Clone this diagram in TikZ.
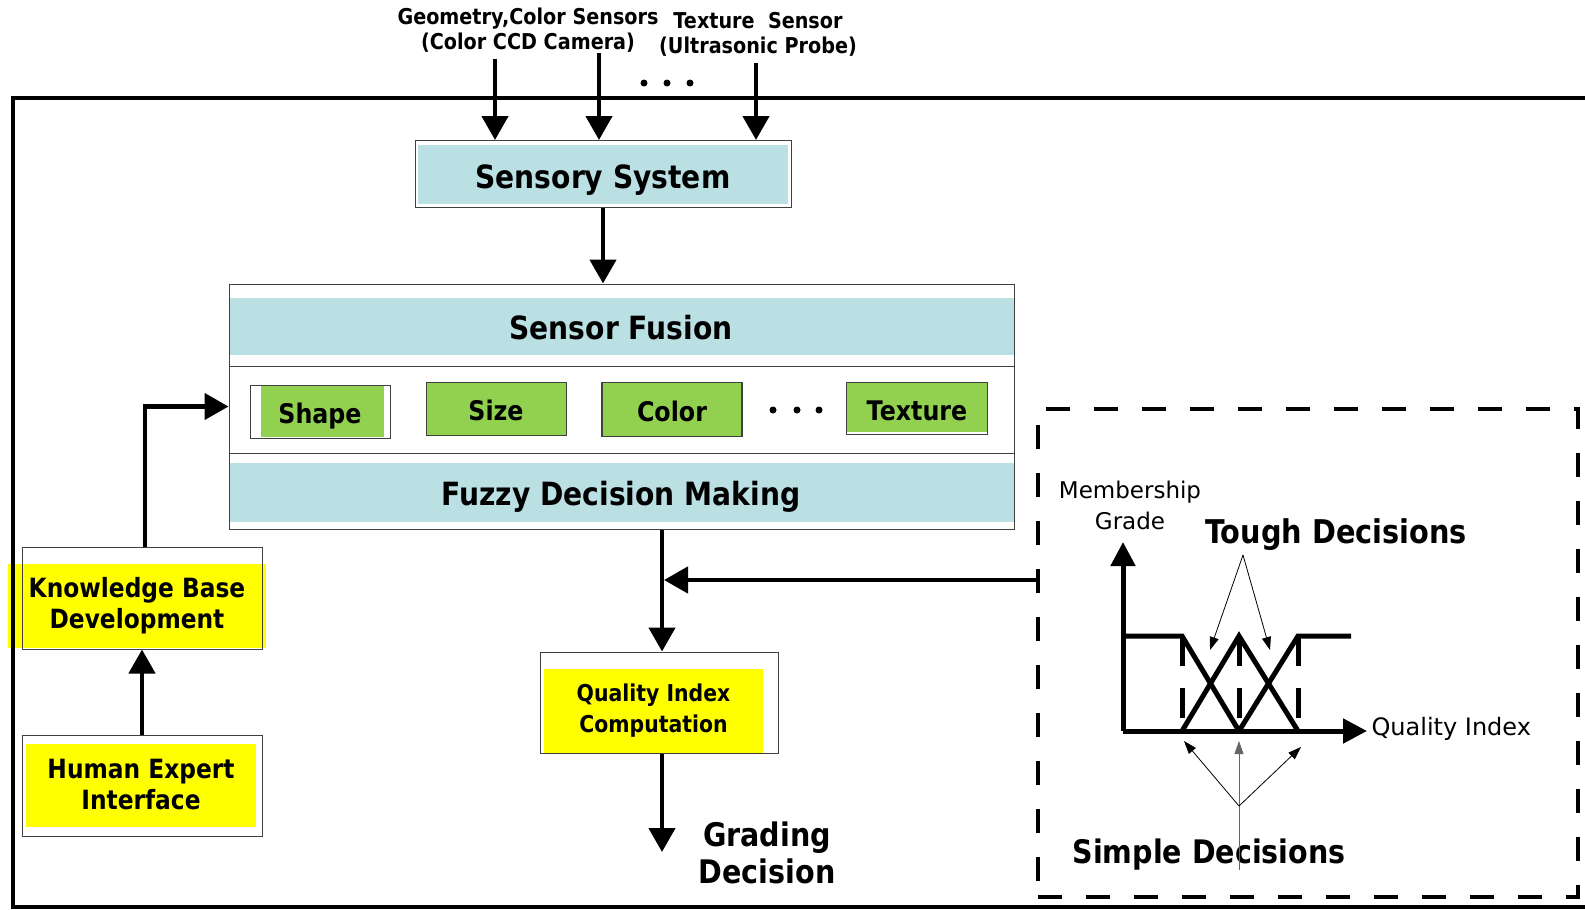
\documentclass[tikz,border=0pt]{standalone}
\usepackage{fontspec}
\setmainfont{DejaVu Sans}[BoldFeatures={FakeStretch=0.88}]
\usepackage{tikz}
\usetikzlibrary{positioning, arrows.meta}
\definecolor{fusionblue}{RGB}{187,224,227}
\definecolor{leafgreen}{RGB}{146,208,80}
\definecolor{markyellow}{RGB}{255,255,0}

\begin{document}
\begin{tikzpicture}[x=1pt, y=-1pt,
    blockframe/.style={draw=black!75, line width=1pt, inner sep=0pt},
    heavy/.style={line width=4.5pt, -{Triangle[width=26pt,length=24pt]}},
    pointer/.style={line width=0.8pt, -{Triangle[width=9pt,length=13pt]}},
    titlefont/.style={font=\fontsize{32}{37}\selectfont\bfseries, align=center},
    leaffont/.style={font=\fontsize{27}{30}\selectfont\bfseries, text height=24pt, text depth=0pt},
    boxfont/.style={font=\fontsize{26.5}{31}\selectfont\bfseries, align=center},
    sensorfont/.style={font=\fontsize{21.8}{25}\selectfont\bfseries, align=center},
    axisfont/.style={font=\fontsize{23}{31}\selectfont, align=center},
    curve/.style={line width=5pt}]
  \useasboundingbox (0,0) rectangle (1585,910);

  \fill[fusionblue] (418,145) rectangle (788,204);
  \fill[fusionblue] (229,298) rectangle (1014,355);
  \fill[fusionblue] (229,463) rectangle (1014,522);
  \fill[leafgreen] (261,386) rectangle (384,437);
  \fill[leafgreen] (846,382) rectangle (988,432);

  \node [blockframe, minimum width=376, minimum height=67] (sensory) at (603,174) {};
  \node [titlefont] (sensoryText) at (603,180) {Sensory System};
  \node [sensorfont] (geoLabel) at (528,30) {Geometry,Color Sensors\\(Color CCD Camera)};
  \node [sensorfont] (textureLabel) at (758,34) {Texture\ \ Sensor\\(Ultrasonic Probe)};
  \coordinate (geoTop) at (495,59);
  \coordinate (camTop) at (599,53);
  \coordinate (textureTop) at (756,63);
  \foreach \x in {644,667,690} \fill (\x,83) circle (3.5);

  \node [blockframe, minimum width=785, minimum height=245] (fusion) at (621.5,406.5) {};
  \draw [black!75, line width=1pt] (229,366) -- (1014,366);
  \draw [black!75, line width=1pt] (229,453) -- (1014,453);
  \node [titlefont] (fusionTitle) at (621,328) {Sensor Fusion};
  \node [titlefont] (fuzzy) at (621,497) {Fuzzy Decision Making};

  \node [blockframe, leaffont, minimum width=140, minimum height=53] (shape) at (320,411.5) {Shape};
  \node [blockframe, leaffont, fill=leafgreen, minimum width=140, minimum height=53] (size) at (496,408.5) {Size};
  \node [blockframe, leaffont, fill=leafgreen, line width=1.8pt, minimum width=140, minimum height=54] (color) at (672,409.5) {Color};
  \node [blockframe, leaffont, minimum width=141, minimum height=52] (texture) at (917,408) {Texture};
  \foreach \x in {773,797,819} \fill (\x,410) circle (3.5);

  \node [fill=markyellow, boxfont, minimum width=258, minimum height=84] (knowledgeText) at (137,606) {Knowledge Base\\Development};
  \node [blockframe, minimum width=240, minimum height=102] (knowledge) at (142,598) {};
  \node [fill=markyellow, boxfont, minimum width=230, minimum height=83] (humanText) at (141,785) {Human Expert\\Interface};
  \node [blockframe, minimum width=240, minimum height=101] (human) at (142,785.5) {};
  \node [fill=markyellow, boxfont, font=\fontsize{23.2}{31}\selectfont\bfseries, minimum width=219, minimum height=85] (qualityText) at (653.5,711) {Quality Index\\Computation};
  \node [blockframe, minimum width=238, minimum height=101] (quality) at (659,702.5) {};
  \node [titlefont, font=\fontsize{32.5}{37}\selectfont\bfseries] (grading) at (767,853) {Grading\\Decision};
  \coordinate (merge) at (662,580);
  \coordinate (gradeEnd) at (662,852);

  \draw [line width=4pt] (1585,98) -- (13,98) -- (13,907) -- (1585,907);

  \draw [heavy] (geoTop) -- (geoTop |- sensory.north);
  \draw [heavy] (camTop) -- (camTop |- sensory.north);
  \draw [heavy] (textureTop) -- (textureTop |- sensory.north);
  \draw [heavy] (sensory.south) -- (sensory.south |- fusion.north);
  \draw [heavy] (human.north) -- (knowledge.south);
  \draw [heavy] ([xshift=3pt]knowledge.north) |- (fusion.west);
  \draw [heavy] (fusion.south -| merge) -- (merge |- quality.north);
  \draw [heavy] (quality.south -| merge) -- (gradeEnd);

  \node [draw, line width=4.5pt, dash pattern=on 24pt off 24pt, minimum width=540, minimum height=488] (fuzzyPanel) at (1308,653) {};
  \draw [heavy] (fuzzyPanel.west |- merge) -- ([xshift=2pt]merge);

  \coordinate (origin) at (1123,731);
  \draw [line width=5pt, -{Triangle[width=24pt,length=24pt]}] (origin) -- (1123,542);
  \draw [line width=5pt, -{Triangle[width=24pt,length=24pt]}] (origin) -- (1367,731);
  \node [axisfont] (gradeLabel) at (1130,505) {Membership\\Grade};
  \node [axisfont, font=\fontsize{24}{31}\selectfont, anchor=west] (qiLabel) at (1368,729) {Quality Index};

  \draw [curve] (origin |- 0,636) -- (1182,636) -- (1239,731);
  \draw [curve] (1182,731) -- (1239,636) -- (1298,731);
  \draw [curve] (1239,731) -- (1298,636) -- (1351,636);
  \foreach \x in {1182,1239,1298}
    \draw [line width=5pt, dash pattern=on 30pt off 22pt] (\x,636) -- (\x,731);

  \node [font=\fontsize{32.7}{36}\selectfont\bfseries] (tough) at (1336,535) {Tough Decisions};
  \coordinate (toughFork) at (1243,555);
  \draw [pointer] (toughFork) -- (1210,650);
  \draw [pointer] (toughFork) -- (1270,650);

  \node [font=\fontsize{32.4}{36}\selectfont\bfseries] (simple) at (1209,855) {Simple Decisions};
  \coordinate (simpleFork) at (1239,806);
  \draw [black!60, line width=0.8pt] (1239,870) -- (simpleFork);
  \draw [pointer] (simpleFork) -- (1184,741);
  \draw [pointer, black!60] (simpleFork) -- (1239,741);
  \draw [pointer] (simpleFork) -- (1301,747);
\end{tikzpicture}
\end{document}
